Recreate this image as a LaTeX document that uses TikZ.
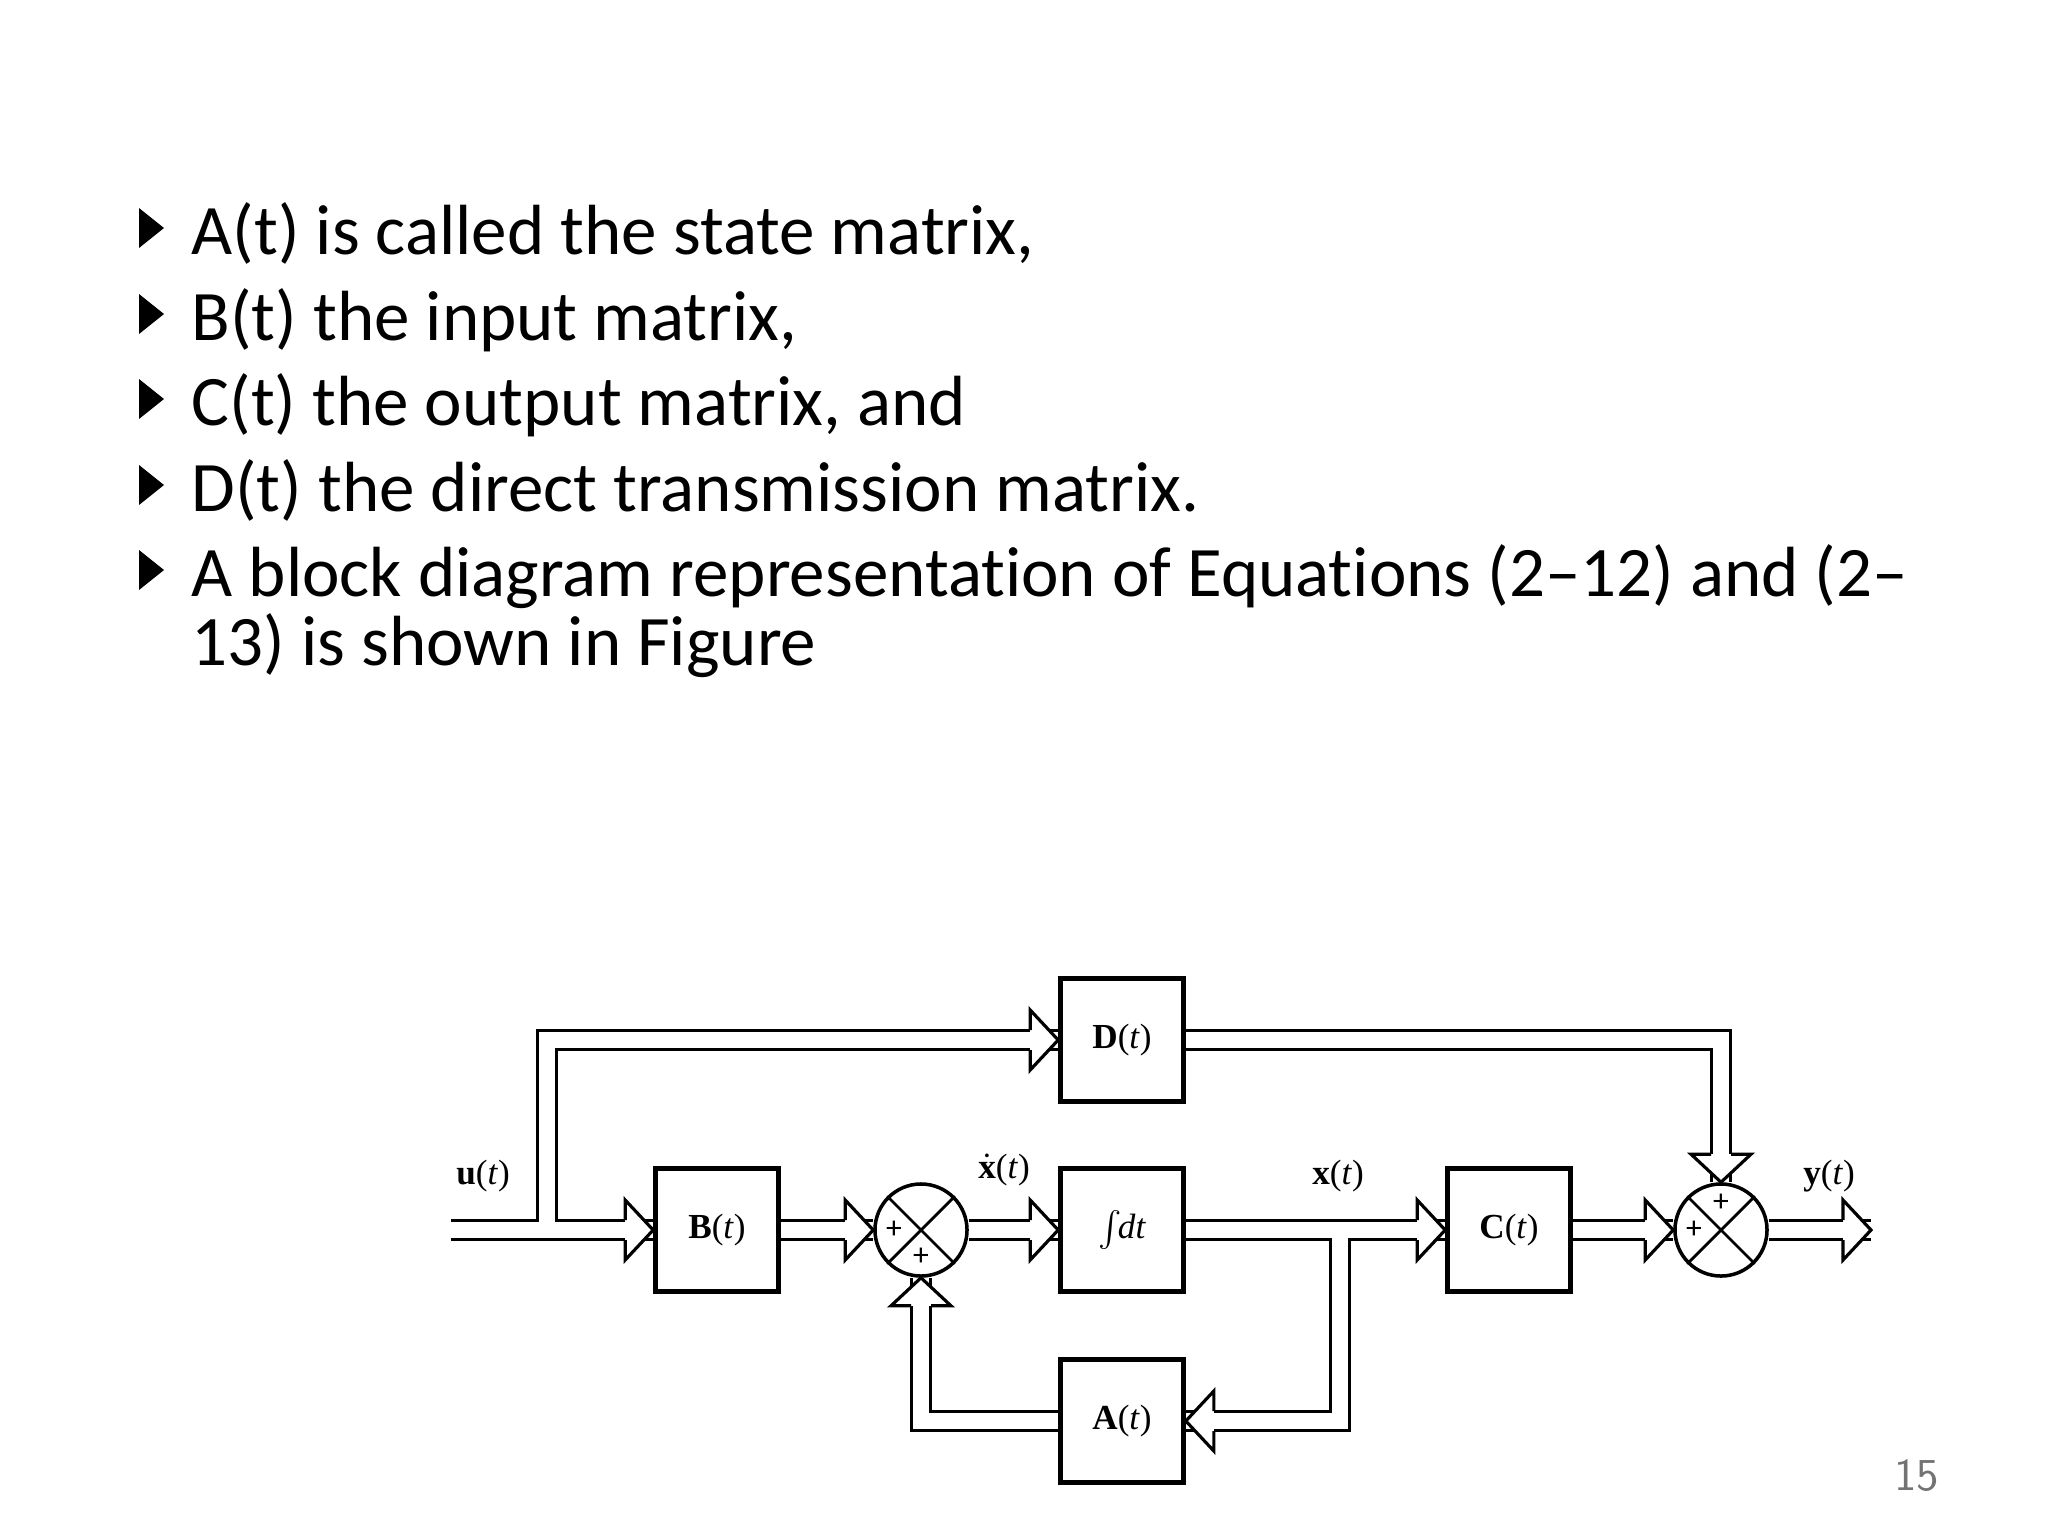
\documentclass[tikz,border=0pt]{standalone}
\usepackage{fontspec}
\setmainfont{Carlito}[Ligatures=NoCommon]
\newfontfamily\tnr{Liberation Serif}
\newcommand{\bl}[1]{\textbf{#1}(\textit{t})}
\begin{document}
\begin{tikzpicture}[x=0.01cm,y=-0.01cm,
  dbl/.style={double distance=4.6pt,line width=0.9pt,line join=miter,draw=black},
  lbl/.style={font=\tnr\fontsize{10}{11}\selectfont},
  bul/.style={anchor=base west,font=\fontsize{20.2}{24}\selectfont},
  hR/.pic={\fill[white](-28,-30)--(0,0)--(-28,30)--cycle;\draw[line width=0.9pt](-28,-10)--(-28,-30)--(0,0)--(-28,30)--(-28,10);},
  hL/.pic={\fill[white](28,-30)--(0,0)--(28,30)--cycle;\draw[line width=0.9pt](28,-10)--(28,-30)--(0,0)--(28,30)--(28,10);},
  hD/.pic={\fill[white](-30,-28)--(0,0)--(30,-28)--cycle;\draw[line width=0.9pt](-10,-28)--(-30,-28)--(0,0)--(30,-28)--(10,-28);},
  hU/.pic={\fill[white](-30,28)--(0,0)--(30,28)--cycle;\draw[line width=0.9pt](-10,28)--(-30,28)--(0,0)--(30,28)--(10,28);}
]
\fill[white] (0,0) rectangle (2048,1536);
\useasboundingbox (0,0) rectangle (2048,1536);
% text
\foreach \b/\t [count=\i] in {254/{A(t) is called the state matrix,},340/{B(t) the input matrix,},425/{C(t) the output matrix, and},511/{D(t) the direct transmission matrix.},596/{A block diagram representation of Equations (2–12) and (2–}}{
  \fill (139,\b-46)--(164,\b-26)--(139,\b-6)--cycle;
  \node[bul,inner sep=0pt] (t\i) at (191,\b) {\t};
}
\node[bul,inner sep=0pt] (t6) at (191,665) {13) is shown in Figure};
\node[anchor=base east,inner sep=0pt,text=black!55,font=\fontsize{13}{15}\selectfont\sffamily] (pg) at (1940,1490) {15};
% blocks
\node[draw,line width=1.3pt,minimum width=1.23cm,minimum height=1.23cm] (D) at (1122,1040) {};
\node[draw,line width=1.3pt,minimum width=1.23cm,minimum height=1.23cm] (B) at (717,1230) {};
\node[draw,line width=1.3pt,minimum width=1.23cm,minimum height=1.23cm] (I) at (1122,1230) {};
\node[draw,line width=1.3pt,minimum width=1.23cm,minimum height=1.23cm] (C) at (1509,1230) {};
\node[draw,line width=1.3pt,minimum width=1.23cm,minimum height=1.23cm] (A) at (1122,1421) {};
\node[lbl] at (D) {\bl{D}};
\node[lbl] at (B) {\bl{B}};
\node[lbl] at (I) {$\int$\kern-1pt\textit{dt}};
\node[lbl] at (C) {\bl{C}};
\node[lbl] at (A) {\bl{A}};
\node[draw,circle,line width=1pt,minimum size=0.92cm,inner sep=0pt] (S1) at (921,1230) {};
\node[draw,circle,line width=1pt,minimum size=0.92cm,inner sep=0pt] (S2) at (1721,1230) {};
\foreach \s in {S1,S2}{\draw[line width=0.8pt] (\s.north west)--(\s.south east) (\s.north east)--(\s.south west);}
\node[font=\fontsize{9}{9}\selectfont] at ([xshift=-0.27cm]S1.center) {+};
\node[font=\fontsize{9}{9}\selectfont] at ([yshift=-0.27cm]S1.center) {+};
\node[font=\fontsize{9}{9}\selectfont] at ([yshift=0.27cm]S2.center) {+};
\node[font=\fontsize{9}{9}\selectfont] at ([xshift=-0.27cm]S2.center) {+};
% coordinates
\coordinate (u0) at (451,1230);
\coordinate (out) at (1871,1230);
% connectors
\draw[dbl] (u0) -- (B.west);
\draw[dbl] (547,1222) |- (D.west);
\draw[dbl] (D.east) -| (S2.north);
\draw[dbl] (B.east) -- (S1.west);
\draw[dbl] (S1.east) -- (I.west);
\draw[dbl] (I.east) -- (C.west);
\draw[dbl] (1340,1238) |- (A.east);
\draw[dbl] (A.west) -| (S1.south);
\draw[dbl] (C.east) -- (S2.west);
\draw[dbl] (S2.east) -- (out);
\pic at (B.west) {hR}; \pic at (D.west) {hR}; \pic at (S2.north) {hD};
\pic at (S1.west) {hR}; \pic at (I.west) {hR}; \pic at (C.west) {hR};
\pic at (A.east) {hL}; \pic at (S1.south) {hU}; \pic at (S2.west) {hR};
\pic at (out) {hR};
% signal labels
\node[lbl] (lu) at (483,1176) {\bl{u}};
\node[lbl] (lxd) at (1004,1170) {$\dot{\textbf{x}}$(\textit{t})};
\node[lbl] (lx) at (1338,1176) {\bl{x}};
\node[lbl] (ly) at (1829,1176) {\bl{y}};
\end{tikzpicture}
\end{document}
